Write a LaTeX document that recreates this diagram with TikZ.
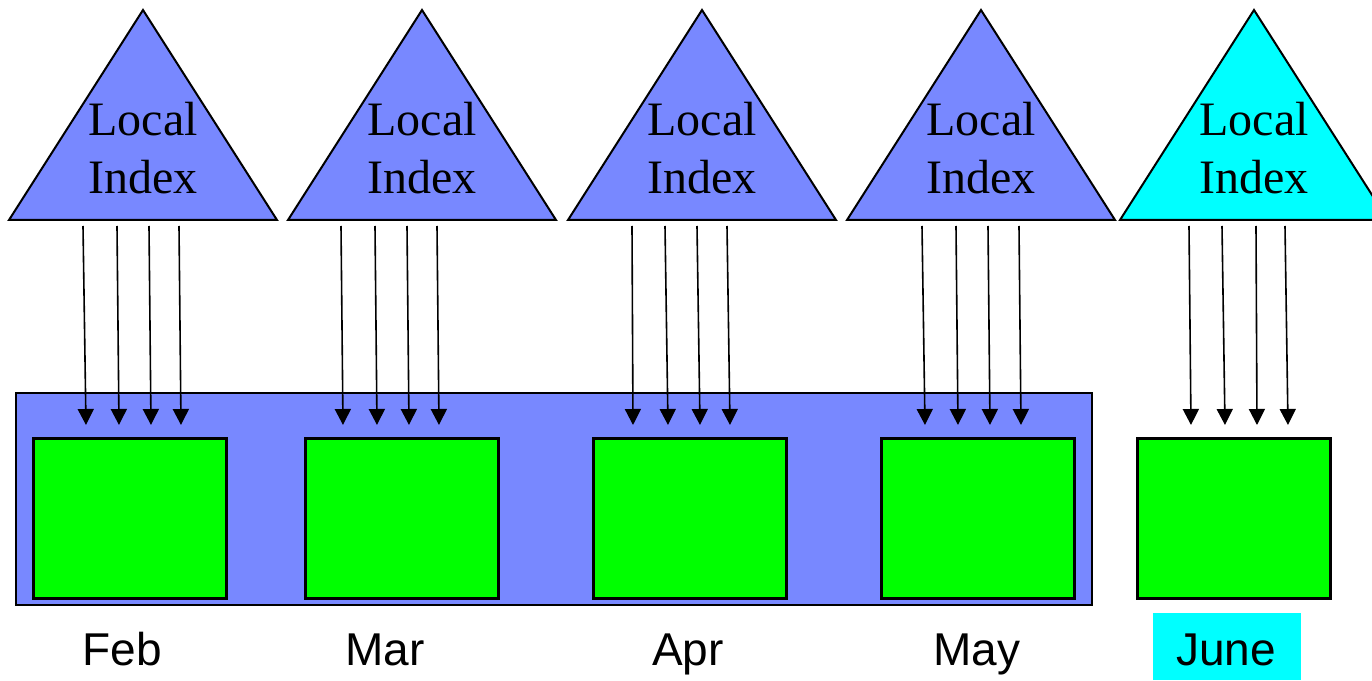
\documentclass[tikz,border=0pt]{standalone}
\usepackage{fontspec}
\setmainfont{Liberation Serif}
\newfontfamily\arialfont{Liberation Sans}
\usetikzlibrary{arrows.meta}
\definecolor{idxblue}{RGB}{120,136,255}
\definecolor{idxcyan}{RGB}{0,255,255}
\definecolor{boxgreen}{RGB}{0,255,0}
\tikzset{
  tri/.style={draw=black,line width=1.5pt,line join=miter},
  tritext/.style={align=center,font=\fontsize{36}{43}\selectfont,inner sep=0pt},
  gbox/.style={draw=black,fill=boxgreen,line width=2pt},
  arr/.style={-{Triangle[length=12pt,width=12pt]},line width=1.2pt},
  mlabel/.style={font=\arialfont\fontsize{34.5}{40}\selectfont,inner sep=0pt,anchor=base}
}
\begin{document}
\begin{tikzpicture}[x=0.75pt,y=-0.75pt]
\useasboundingbox (0,0) rectangle (1372,681);
\clip (0,0) rectangle (1372,681);
% big panel
\draw[fill=idxblue,line width=1.8pt] (16,393) rectangle (1092,605);
% triangles
\foreach \n/\cx/\col in {1/143/idxblue,2/422/idxblue,3/702/idxblue,4/981/idxblue,5/1254/idxcyan}{
  \draw[tri,fill=\col] (\cx-134,220) -- (\cx,10) -- (\cx+134,220) -- cycle;
  \node[tritext] (t\n) at (\cx,148) {Local\\Index};
}
% green boxes
\foreach \n/\lx in {1/32,2/304,3/592,4/880,5/1136}{
  \node[gbox,minimum width=193*0.75pt,minimum height=160*0.75pt,inner sep=0pt,anchor=north west] (b\n) at (\lx,437) {};
}
% arrows
\foreach \n/\a/\b/\c/\d/\e/\f/\g/\h in {1/83/117/149/179/86/119/151/181,2/341/375/407/437/343/377/409/439,3/632/665/697/727/633/668/700/730,4/922/956/988/1019/925/958/990/1021,5/1189/1222/1256/1285/1191/1225/1257/1288}{
  \coordinate (s\n a) at (\a,226); \coordinate (e\n a) at (\e,425);
  \coordinate (s\n b) at (\b,226); \coordinate (e\n b) at (\f,425);
  \coordinate (s\n c) at (\c,226); \coordinate (e\n c) at (\g,425);
  \coordinate (s\n d) at (\d,226); \coordinate (e\n d) at (\h,425);
  \draw[arr] (s\n a) -- (e\n a);
  \draw[arr] (s\n b) -- (e\n b);
  \draw[arr] (s\n c) -- (e\n c);
  \draw[arr] (s\n d) -- (e\n d);
}
% month labels
\node[mlabel] (feb) at (122,665) {Feb};
\node[mlabel] (mar) at (385,665) {Mar};
\node[mlabel] (apr) at (688,665) {Apr};
\node[mlabel] (may) at (977,665) {May};
\fill[idxcyan] (1153,613) rectangle (1301,680);
\node[mlabel] (jun) at (1226,665) {June};
\end{tikzpicture}
\end{document}
